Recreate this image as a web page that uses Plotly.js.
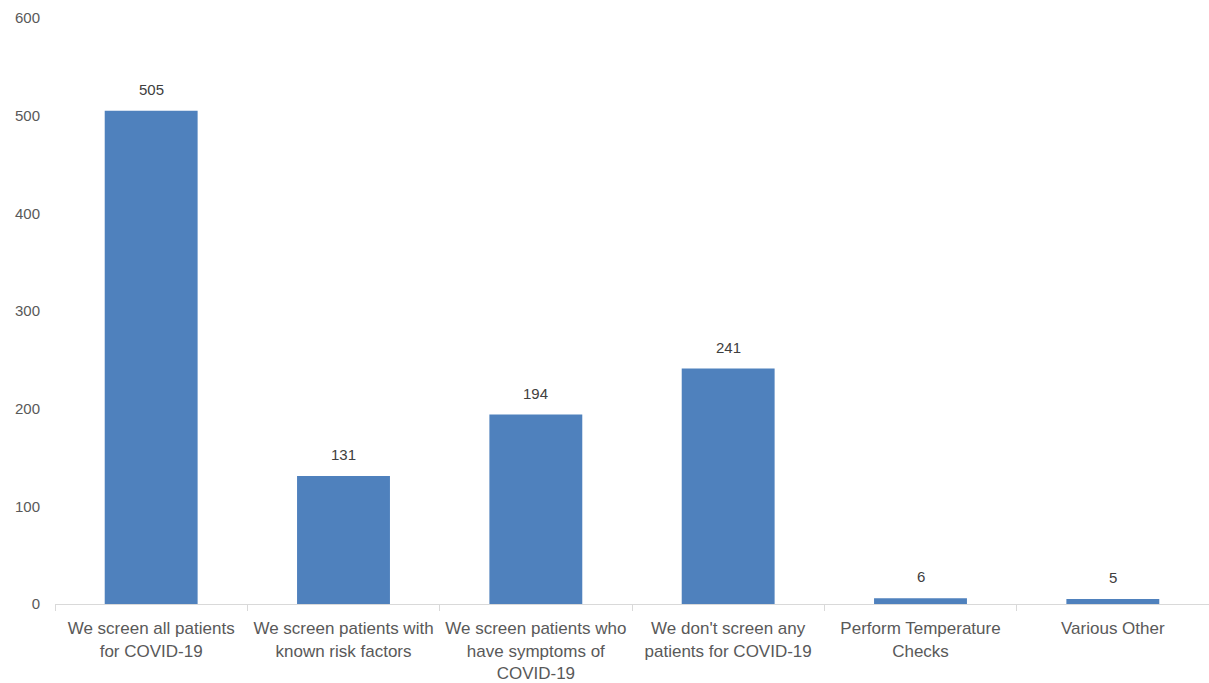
<!DOCTYPE html>
<html>
<head>
<meta charset="utf-8">
<script src="https://cdn.plot.ly/plotly-3.0.1.min.js"></script>
<style>html,body{margin:0;padding:0;background:#fff;}#chart{width:1209px;height:683px;}</style>
</head>
<body>
<div id="chart"></div>
<script>
const categories = [
  "We screen all patients<br>for COVID-19",
  "We screen patients with<br>known risk factors",
  "We screen patients who<br>have symptoms of<br>COVID-19",
  "We don't screen any<br>patients for COVID-19",
  "Perform Temperature<br>Checks",
  "Various Other"
];
const values = [505, 131, 194, 241, 6, 5];
const yTicks = [0, 100, 200, 300, 400, 500, 600];

const FONT = "Liberation Sans, Arial, sans-serif";

const labels = categories.map((c, i) => ({
  x: c, y: values[i], xref: "x", yref: "y",
  text: String(values[i]), showarrow: false,
  yanchor: "bottom", yshift: 11,
  font: {family: FONT, size: 15, color: "#404040"}
}));

Plotly.newPlot("chart", [{
  type: "bar",
  x: categories,
  y: values,
  marker: {color: "#4F81BD"},
  hoverinfo: "x+y"
}], {
  width: 1209, height: 683,
  margin: {l: 55, r: 0, t: 18, b: 79},
  paper_bgcolor: "#fff", plot_bgcolor: "#fff",
  bargap: 0.517,
  showlegend: false,
  font: {family: FONT, size: 15, color: "#595959"},
  annotations: labels,
  xaxis: {
    type: "category",
    showline: true, linecolor: "#d9d9d9", linewidth: 1,
    ticks: "outside", tickson: "boundaries", ticklen: 6, tickcolor: "#d9d9d9",
    showgrid: false, zeroline: false,
    tickangle: 0,
    tickfont: {family: FONT, size: 17, color: "#595959"},
    ticklabelstandoff: 9
  },
  yaxis: {
    range: [0, 600],
    tickvals: yTicks,
    showgrid: false, zeroline: false, showline: false,
    ticks: "",
    tickfont: {family: FONT, size: 15, color: "#595959"},
    ticklabelstandoff: 14
  }
}, {displayModeBar: false, staticPlot: true});
</script>
</body>
</html>
